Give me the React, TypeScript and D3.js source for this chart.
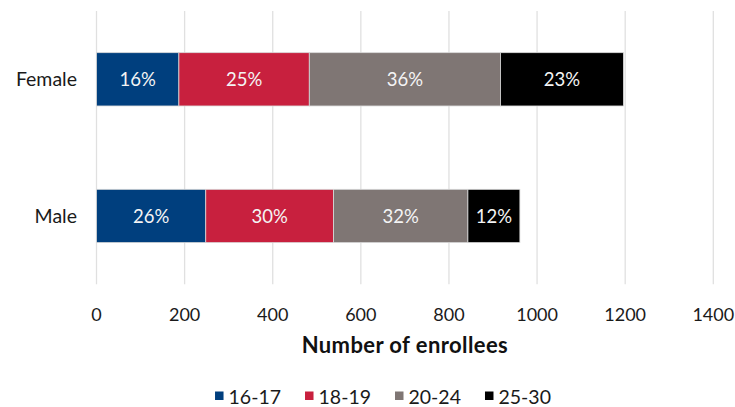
import React, { useEffect, useRef } from "react";
import * as d3 from "d3";

// Enrollees by sex, split into age groups
const categories = ["Female", "Male"];
const ageGroups = ["16-17", "18-19", "20-24", "25-30"];
const age16to17 = [187, 248];
const age18to19 = [296, 290];
const age20to24 = [434, 305];
const age25to30 = [279, 118];
const xTicks = [0, 200, 400, 600, 800, 1000, 1200, 1400];
const groupColors = ["#003f7e", "#c8203e", "#7f7674", "#000000"];
const xTitle = "Number of enrollees";

const WIDTH = 735;
const HEIGHT = 407;
const FONT = "Lato, 'Open Sans', sans-serif";

export default function App() {
  const ref = useRef<SVGSVGElement | null>(null);

  useEffect(() => {
    const svg = d3.select(ref.current);
    svg.selectAll("*").remove();

    const series = [age16to17, age18to19, age20to24, age25to30];
    const rows = categories.map((c, i) => {
      const row: Record<string, any> = { category: c };
      ageGroups.forEach((g, k) => (row[g] = series[k][i]));
      return row;
    });
    const totals = categories.map((_, i) => d3.sum(series, (s) => s[i]));

    const x = d3.scaleLinear().domain([0, 1400]).range([96.5, 713.3]);
    const y = d3
      .scaleBand<string>()
      .domain(categories)
      .range([11, 284.3])
      .paddingInner(0.61)
      .paddingOuter(0.305);

    // vertical gridlines
    svg
      .append("g")
      .selectAll("line")
      .data(xTicks)
      .join("line")
      .attr("x1", (d) => x(d))
      .attr("x2", (d) => x(d))
      .attr("y1", 11)
      .attr("y2", 284.3)
      .attr("stroke", "#e0e0e0")
      .attr("stroke-width", 1.3);

    // tick labels
    svg
      .append("g")
      .selectAll("text")
      .data(xTicks)
      .join("text")
      .attr("x", (d) => x(d))
      .attr("y", 321)
      .attr("text-anchor", "middle")
      .attr("font-family", FONT)
      .attr("font-size", 18)
      .attr("fill", "#1a1a1a")
      .text((d) => String(d));

    // category labels
    svg
      .append("g")
      .selectAll("text")
      .data(categories)
      .join("text")
      .attr("x", 77)
      .attr("y", (d) => (y(d) as number) + y.bandwidth() / 2)
      .attr("dy", "0.36em")
      .attr("text-anchor", "end")
      .attr("font-family", FONT)
      .attr("font-size", 19.5)
      .attr("fill", "#1a1a1a")
      .text((d) => d);

    const stacked = d3.stack<any>().keys(ageGroups)(rows);

    const layers = svg
      .append("g")
      .selectAll("g")
      .data(stacked)
      .join("g")
      .attr("fill", (_, k) => groupColors[k]);

    layers
      .selectAll("rect")
      .data((s) => s.map((p) => ({ p, cat: p.data.category as string })))
      .join("rect")
      .attr("x", (d) => x(d.p[0]))
      .attr("y", (d) => y(d.cat) as number)
      .attr("width", (d) => x(d.p[1]) - x(d.p[0]))
      .attr("height", y.bandwidth())
      .attr("stroke", "#d9d9d9")
      .attr("stroke-width", 0.8);

    // percentage labels inside segments
    layers
      .selectAll("text")
      .data((s) =>
        s.map((p, i) => ({ p, cat: p.data.category as string, total: totals[i] }))
      )
      .join("text")
      .attr("x", (d) => (x(d.p[0]) + x(d.p[1])) / 2)
      .attr("y", (d) => (y(d.cat) as number) + y.bandwidth() / 2)
      .attr("dy", "0.36em")
      .attr("text-anchor", "middle")
      .attr("font-family", FONT)
      .attr("font-size", 18.5)
      .attr("fill", "#f4f4f4")
      .text((d) => `${Math.round(((d.p[1] - d.p[0]) / d.total) * 100)}%`);

    // axis title
    svg
      .append("text")
      .attr("x", (x(0) + x(1400)) / 2)
      .attr("y", 353)
      .attr("text-anchor", "middle")
      .attr("font-family", FONT)
      .attr("font-weight", 700)
      .attr("font-size", 22)
      .attr("letter-spacing", 0.4)
      .attr("fill", "#111")
      .text(xTitle);

    // legend, laid out from measured text widths
    const legend = svg.append("g");
    const items = legend
      .selectAll("g")
      .data(ageGroups)
      .join("g");
    items
      .append("rect")
      .attr("width", 8.5)
      .attr("height", 8.5)
      .attr("y", 391.5)
      .attr("fill", (_, k) => groupColors[k]);
    const labels = items
      .append("text")
      .attr("x", 13.5)
      .attr("y", 404)
      .attr("font-family", FONT)
      .attr("font-size", 19.5)
      .attr("fill", "#1a1a1a")
      .text((d) => d);
    const widths: number[] = [];
    labels.each(function () {
      widths.push((this as SVGTextElement).getComputedTextLength());
    });
    const gap = 24;
    let cursor = 0;
    const offsets = widths.map((w) => {
      const o = cursor;
      cursor += 13.5 + w + gap;
      return o;
    });
    const total = cursor - gap;
    const start = 383 - total / 2;
    items.attr("transform", (_, k) => `translate(${start + offsets[k]},0)`);
  }, []);

  return (
    <svg
      ref={ref}
      width={WIDTH}
      height={HEIGHT}
      style={{ position: "absolute", left: 0, top: 0, background: "#fff" }}
    />
  );
}
